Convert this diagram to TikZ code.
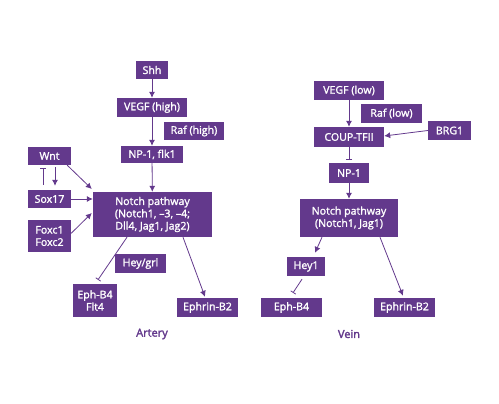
\documentclass[tikz,border=0pt]{standalone}
\usepackage{fontspec}
\setmainfont{Open Sans}[FakeBold=1.6]
\newfontfamily\labfont{Open Sans}[FakeBold=2.4]
\usetikzlibrary{arrows.meta}
\definecolor{vio}{RGB}{99,57,140}
\tikzset{
  box/.style={fill=vio, text=white, inner sep=0pt, align=center, font=\fontsize{10.6}{12.3}\selectfont},
  arr/.style={draw=vio, line width=0.8pt, -{Latex[length=6pt,width=6pt]}},
  inh/.style={draw=vio, line width=0.8pt, -{Bar[width=6pt]}},
  lab/.style={text=vio, font=\labfont\fontsize{11}{12}\selectfont},
}
\begin{document}
\begin{tikzpicture}[x=1pt,y=-1pt]
\useasboundingbox (0,0) rectangle (499,404);
% Artery
\node[box, minimum width=32pt, minimum height=18pt] (shh) at (152,70) {Shh};
\node[box, minimum width=70pt, minimum height=19pt] (vegfh) at (152,107.5) {VEGF (high)};
\node[box, minimum width=60pt, minimum height=18pt] (rafh) at (194,131) {Raf (high)};
\node[box, minimum width=62pt, minimum height=17pt] (np1a) at (152,154.5) {NP-1, flk1};
\node[box, minimum width=43pt, minimum height=18pt] (wnt) at (49.5,156) {Wnt};
\node[box, minimum width=43pt, minimum height=18pt] (sox) at (49.5,199) {Sox17};
\node[box, minimum width=43pt, minimum height=32pt] (foxc) at (49.5,236) {Foxc1\\Foxc2};
\node[box, minimum width=119pt, minimum height=45pt] (notcha) at (152.5,214.5) {Notch pathway\\(Notch1, --3, --4;\\Dll4, Jag1, Jag2)};
\node[box, minimum width=51pt, minimum height=19pt] (hey) at (140.5,263.5) {Hey/grl};
\node[box, minimum width=44pt, minimum height=33pt] (ephb4a) at (95,300.5) {Eph-B4\\Flt4};
\node[box, minimum width=61pt, minimum height=19pt] (ephrina) at (207.5,307.5) {Ephrin-B2};
\node[lab] (artery) at (152,334) {Artery};
% Vein
\node[box, minimum width=70pt, minimum height=19pt] (vegfl) at (349,90.5) {VEGF (low)};
\node[box, minimum width=61pt, minimum height=19pt] (rafl) at (391.5,113.5) {Raf (low)};
\node[box, minimum width=70pt, minimum height=20pt] (coup) at (349,137) {COUP-TFII};
\node[box, minimum width=43pt, minimum height=19pt] (brg) at (449.5,130.5) {BRG1};
\node[box, minimum width=40pt, minimum height=20pt] (np1v) at (349,173) {NP-1};
\node[box, minimum width=98pt, minimum height=38pt] (notchv) at (349,218) {Notch pathway\\(Notch1, Jag1)};
\node[box, minimum width=38pt, minimum height=19pt] (hey1) at (306,266.5) {Hey1};
\node[box, minimum width=61pt, minimum height=19pt] (ephb4v) at (291.5,307.5) {Eph-B4};
\node[box, minimum width=61pt, minimum height=19pt] (ephrinv) at (404.5,307.5) {Ephrin-B2};
\node[lab] (vein) at (349,334) {Vein};
% Artery connectors
\draw[arr] (shh) -- (vegfh);
\draw[arr] (vegfh) -- (np1a);
\draw[arr] (np1a) -- (notcha);
\draw[arr] ([xshift=-4pt]wnt.south east) -- ([xshift=-1pt,yshift=25.5pt]notcha.west);
\draw[arr] (sox.east) -- (sox.east -| notcha.west);
\draw[arr] ([yshift=2.7pt]foxc.east) -- ([xshift=-1pt,yshift=1.5pt]notcha.west);
\draw[inh] ([xshift=-6.5pt,yshift=5pt]sox.north) -- ([xshift=-6.5pt,yshift=-2.5pt]wnt.south);
\draw[arr] ([xshift=5.5pt,yshift=-2pt]wnt.south) -- ([xshift=5.5pt,yshift=4pt]sox.north);
\draw[inh] ([xshift=-25.5pt]notcha.south) -- ([xshift=3pt,yshift=4pt]ephb4a.north);
\draw[arr] ([xshift=30.5pt]notcha.south) -- ([xshift=-2.5pt,yshift=1pt]ephrina.north);
% Vein connectors
\draw[arr] (vegfl) -- (coup);
\draw[arr] (brg.west) -- ([yshift=1pt]coup.east);
\draw[inh] (coup.south) -- ([yshift=3pt]np1v.north);
\draw[arr] (np1v) -- (notchv);
\draw[arr] ([xshift=-27pt]notchv.south) -- ([xshift=9pt,yshift=4pt]hey1.north);
\draw[inh] ([xshift=-4pt,yshift=-3pt]hey1.south) -- ([xshift=1.5pt,yshift=5pt]ephb4v.north);
\draw[arr] ([xshift=31pt]notchv.south) -- ([xshift=-1.5pt,yshift=2pt]ephrinv.north);
\end{tikzpicture}
\end{document}
